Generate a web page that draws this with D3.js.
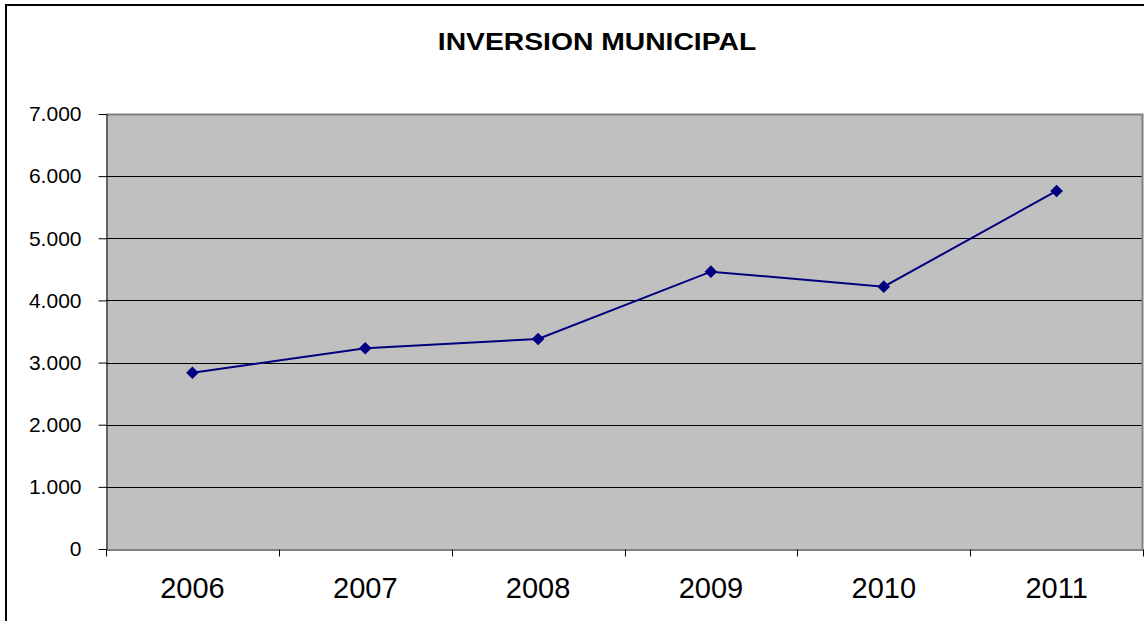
<!DOCTYPE html>
<html>
<head>
<meta charset="utf-8">
<script src="https://cdn.jsdelivr.net/npm/d3@7"></script>
<style>
  body { margin: 0; background: #fff; }
  svg { display: block; font-family: Arial, "Liberation Sans", sans-serif; }
</style>
</head>
<body>
<svg id="chart"></svg>
<script>
const years = ["2006", "2007", "2008", "2009", "2010", "2011"];
const inversion = [2837, 3230, 3380, 4463, 4221, 5761];
const yTicks = [0, 1000, 2000, 3000, 4000, 5000, 6000, 7000];
const title = "INVERSION MUNICIPAL";

const W = 1144, H = 621;
const plot = { left: 106, right: 1143, top: 114, bottom: 549 };

const svg = d3.select("#chart").attr("width", W).attr("height", H);

// outer chart frame (runs off the right and bottom edge)
svg.append("rect")
  .attr("x", 6).attr("y", 5)
  .attr("width", 1160).attr("height", 640)
  .attr("fill", "#fff")
  .attr("stroke", "#000")
  .attr("stroke-width", 2);

// title glyphs are wide in the original, so stretch horizontally
svg.append("text")
  .attr("transform", "translate(597,50) scale(1.23,1)")
  .attr("text-anchor", "middle")
  .attr("font-size", 23)
  .attr("font-weight", "bold")
  .text(title);

const x = d3.scaleBand().domain(years).range([plot.left, plot.right]);
const y = d3.scaleLinear().domain([0, 7000]).range([plot.bottom, plot.top]);

const fmt = d3.formatLocale({ decimal: ",", thousands: ".", grouping: [3], currency: ["", ""] }).format(",d");

// plot area
svg.append("rect")
  .attr("x", plot.left).attr("y", plot.top)
  .attr("width", plot.right - plot.left).attr("height", plot.bottom - plot.top)
  .attr("fill", "#c0c0c0");

// gridlines
svg.append("g")
  .selectAll("line")
  .data(yTicks.filter(d => d > 0 && d < 7000))
  .enter().append("line")
  .attr("x1", plot.left).attr("x2", plot.right)
  .attr("y1", d => Math.round(y(d)) + 0.5).attr("y2", d => Math.round(y(d)) + 0.5)
  .attr("stroke", "#000")
  .attr("stroke-width", 1);

// plot border top/right
svg.append("path")
  .attr("d", `M${plot.left},${plot.top + 0.5}H${plot.right - 0.5}V${plot.bottom}`)
  .attr("fill", "none")
  .attr("stroke", "#808080")
  .attr("stroke-width", 2);

// y axis
const yAxis = svg.append("g")
  .attr("transform", `translate(${plot.left + 0.5},0)`)
  .call(d3.axisLeft(y).tickValues(yTicks).tickFormat(fmt).tickSize(8).tickSizeOuter(0).tickPadding(17));
yAxis.selectAll("text").attr("font-size", 21).attr("fill", "#000").attr("font-family", null);
yAxis.selectAll("line, path").attr("stroke", "#000");

// x axis: labels centred in bands, ticks on band edges
const xAxis = svg.append("g")
  .attr("transform", `translate(0,${plot.bottom + 0.5})`)
  .call(d3.axisBottom(x).tickSize(0).tickPadding(28));
xAxis.selectAll("text").attr("font-size", 29).attr("fill", "#000").attr("font-family", null);
xAxis.select(".domain").attr("stroke", "#000");

const edges = years.map(d => x(d)).concat([x.range()[1]]);
xAxis.selectAll(".edge")
  .data(edges)
  .enter().append("line")
  .attr("class", "edge")
  .attr("x1", d => Math.round(d) + 0.5).attr("x2", d => Math.round(d) + 0.5)
  .attr("y1", 0).attr("y2", 7)
  .attr("stroke", "#000");

// series
const pts = years.map((d, i) => [x(d) + x.bandwidth() / 2, y(inversion[i])]);

svg.append("path")
  .attr("d", d3.line()(pts))
  .attr("fill", "none")
  .attr("stroke", "#000080")
  .attr("stroke-width", 2);

svg.append("g")
  .selectAll("path")
  .data(pts)
  .enter().append("path")
  .attr("d", d3.symbol().type(d3.symbolSquare).size(80))
  .attr("transform", d => `translate(${d[0]},${d[1]}) rotate(45)`)
  .attr("fill", "#000080");
</script>
</body>
</html>
